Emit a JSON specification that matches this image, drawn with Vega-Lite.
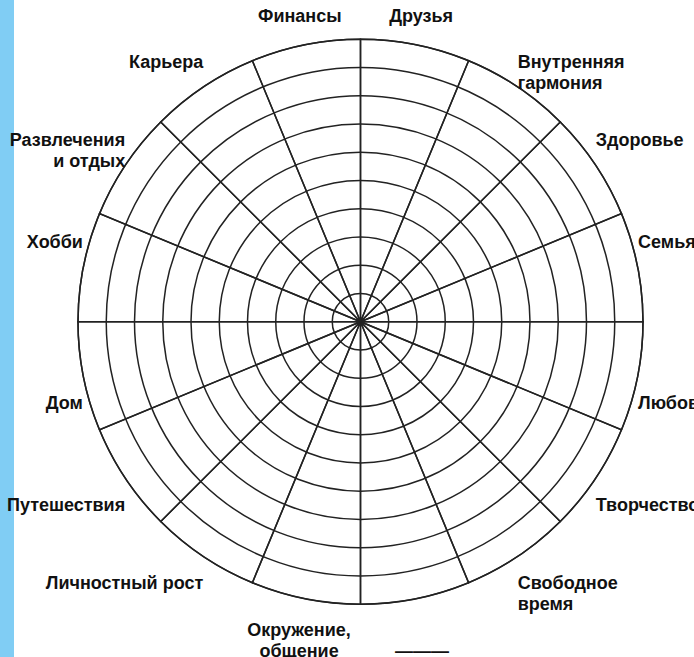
{
  "$schema": "https://vega.github.io/schema/vega-lite/v6.json",
  "width": 680,
  "height": 657,
  "autosize": {"type": "none"},
  "padding": {"left": 14, "top": 0, "right": 0, "bottom": 0},
  "background": "#80cdf4",
  "config": {"view": {"fill": "white", "stroke": null}},
  "datasets": {
    "rings": [
      {"ring": 1}, {"ring": 2}, {"ring": 3}, {"ring": 4}, {"ring": 5},
      {"ring": 6}, {"ring": 7}, {"ring": 8}, {"ring": 9}, {"ring": 10}
    ],
    "sectors": [
      {"sector": 0, "label": "Друзья", "share": 1},
      {"sector": 1, "label": "Внутренняя\nгармония", "share": 1},
      {"sector": 2, "label": "Здоровье", "share": 1},
      {"sector": 3, "label": "Семья", "share": 1},
      {"sector": 4, "label": "Любовь", "share": 1},
      {"sector": 5, "label": "Творчество", "share": 1},
      {"sector": 6, "label": "Свободное\nвремя", "share": 1},
      {"sector": 7, "label": "\n———", "share": 1},
      {"sector": 8, "label": "Окружение,\nобщение", "share": 1},
      {"sector": 9, "label": "Личностный рост", "share": 1},
      {"sector": 10, "label": "Путешествия", "share": 1},
      {"sector": 11, "label": "Дом", "share": 1},
      {"sector": 12, "label": "Хобби", "share": 1},
      {"sector": 13, "label": "Развлечения\nи отдых", "share": 1},
      {"sector": 14, "label": "Карьера", "share": 1},
      {"sector": 15, "label": "Финансы", "share": 1}
    ]
  },
  "encoding": {
    "x": {"datum": 0, "type": "quantitative", "scale": {"domain": [-12.265, 11.805], "nice": false, "zero": false}, "axis": null},
    "y": {"datum": 0, "type": "quantitative", "scale": {"domain": [-11.869, 11.388], "nice": false, "zero": false}, "axis": null}
  },
  "layer": [
    {
      "data": {"name": "rings"},
      "mark": {"type": "arc", "filled": false, "fill": null, "stroke": "#222", "strokeWidth": 1.5, "theta": 0, "theta2": {"expr": "2*PI"}},
      "encoding": {
        "radius": {"field": "ring", "type": "quantitative", "stack": null, "scale": {"type": "linear", "domain": [0, 10], "range": [0, 282.5], "zero": true}}
      }
    },
    {
      "data": {"name": "sectors"},
      "mark": {"type": "arc", "filled": false, "fill": null, "stroke": "#222", "strokeWidth": 1.5},
      "encoding": {
        "theta": {"field": "share", "type": "quantitative", "stack": true},
        "order": {"field": "sector", "type": "quantitative"},
        "radius": {"datum": 10, "type": "quantitative"}
      }
    },
    {
      "data": {"name": "sectors"},
      "mark": {
        "type": "text",
        "font": "Liberation Sans",
        "fontWeight": "bold",
        "fontSize": 18,
        "color": "#111",
        "lineBreak": "\n",
        "lineHeight": 21,
        "radius": {"expr": "(datum.sector == 0 || datum.sector == 15) ? 311 : ((datum.sector == 7 || datum.sector == 8) ? 315 : 283)"},
        "align": {"expr": "(datum.sector == 0 || datum.sector == 15 || datum.sector == 7 || datum.sector == 8) ? 'center' : (datum.sector < 8 ? 'left' : 'right')"},
        "baseline": {"expr": "(datum.sector == 0 || datum.sector == 15 || datum.sector == 7 || datum.sector == 8) ? 'middle' : ((datum.sector <= 3 || datum.sector >= 12) ? 'bottom' : 'top')"},
        "dy": {"expr": "(datum.sector == 0 || datum.sector == 15 || datum.sector == 7 || datum.sector == 8) ? 0 : ((datum.sector <= 3 || datum.sector >= 12) ? -14 : 18)"}
      },
      "encoding": {
        "theta": {"field": "share", "type": "quantitative", "stack": true},
        "order": {"field": "sector", "type": "quantitative"},
        "text": {"field": "label", "type": "nominal"}
      }
    }
  ]
}
